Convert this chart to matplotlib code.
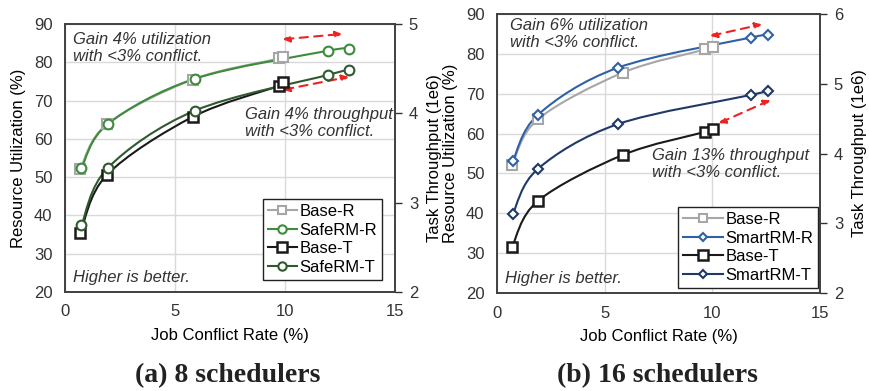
import matplotlib
matplotlib.use('Agg')
import matplotlib.pyplot as plt
from matplotlib.path import Path
from matplotlib.patches import PathPatch
from matplotlib.lines import Line2D
import numpy as np

plt.rcParams['font.family'] = ['Liberation Sans', 'DejaVu Sans']
plt.rcParams['font.size'] = 12

# (a) 8 schedulers
a_base_x = [0.7, 1.9, 5.8, 9.75, 9.9]
a_base_r = [52.2, 63.8, 75.5, 81.0, 81.3]
a_base_t = [2.66, 3.31, 3.96, 4.31, 4.35]
a_safe_x = [0.75, 1.95, 5.9, 11.95, 12.9]
a_safe_r = [52.4, 63.9, 75.7, 83.0, 83.5]
a_safe_t = [2.75, 3.39, 4.03, 4.43, 4.49]

# (b) 16 schedulers
b_base_x = [0.7, 1.9, 5.85, 9.66, 10.05]
b_base_r = [52.0, 63.6, 75.3, 81.1, 81.8]
b_base_t = [2.66, 3.32, 3.98, 4.31, 4.35]
b_smart_x = [0.73, 1.9, 5.6, 11.8, 12.6]
b_smart_r = [53.0, 64.7, 76.5, 84.1, 84.7]
b_smart_t = [3.13, 3.78, 4.42, 4.84, 4.90]

x_ticks = [0, 5, 10, 15]
r_ticks = [20, 30, 40, 50, 60, 70, 80, 90]

GREY = '#a6a6a6'
GREEN = '#3c8c3c'
DKGREEN = '#2e5a2e'
BLUE = '#2e62a4'
NAVY = '#1f3a66'


def smooth_path(x, y):
    # excel-like smoothed line (bezier through the points)
    p = np.column_stack([x, y]).astype(float)
    n = len(p)
    verts = [p[0]]
    codes = [Path.MOVETO]
    for i in range(n - 1):
        p0 = p[i - 1] if i > 0 else p[i]
        p3 = p[i + 2] if i + 2 < n else p[i + 1]
        c1 = p[i] + (p[i + 1] - p0) / 6.0
        c2 = p[i + 1] - (p3 - p[i]) / 6.0
        verts += [c1, c2, p[i + 1]]
        codes += [Path.CURVE4] * 3
    return Path(verts, codes)


def series(ax, x, y, color, marker, ms, mew, lw=1.5):
    ax.add_patch(PathPatch(smooth_path(x, y), facecolor='none', edgecolor=color,
                           lw=lw, zorder=3))
    ax.plot(x, y, ls='none', marker=marker, ms=ms, mfc='white', mec=color,
            mew=mew, zorder=4)
    return Line2D([], [], color=color, lw=lw, marker=marker, ms=ms - 1,
                  mfc='white', mec=color, mew=mew)


def setup(ax, ax2, t_ticks):
    ax.set_xlim(0, 15)
    ax.set_ylim(20, 90)
    ax.set_xticks(x_ticks)
    ax.set_yticks(r_ticks)
    ax.grid(True, color='#d9d9d9', lw=1)
    ax.set_axisbelow(True)
    ax.tick_params(axis='both', length=0, pad=9, colors='#333333', labelsize=12)
    ax2.set_ylim(t_ticks[0], t_ticks[-1])
    ax2.set_yticks(t_ticks)
    ax2.tick_params(axis='y', length=5, width=1, direction='out', pad=5,
                    colors='#333333', labelsize=12)
    for a in (ax, ax2):
        for s in a.spines.values():
            s.set_color('#404040')
            s.set_linewidth(1.2)
    ax.set_xlabel('Job Conflict Rate (%)', fontsize=12, labelpad=6)
    ax.set_ylabel('Resource Utilization (%)', fontsize=12, labelpad=6)
    ax2.set_ylabel('Task Throughput (1e6)', fontsize=12, labelpad=6)
    ax.text(0.025, 0.025, 'Higher is better.', transform=ax.transAxes,
            style='italic', fontsize=12, color='#333333', va='bottom')


def darrow(ax, x0, y0, x1, y1):
    ax.annotate('', xy=(x1, y1), xytext=(x0, y0),
                arrowprops=dict(arrowstyle='<|-|>', color='#ee2222', lw=1.5,
                                ls=(0, (4, 3)), mutation_scale=10,
                                shrinkA=0, shrinkB=0), zorder=5)


fig = plt.figure(figsize=(8.69, 3.91), dpi=100)

# left panel
ax = fig.add_axes([0.0748, 0.2532, 0.3797, 0.6854])
ax2 = ax.twinx()
setup(ax, ax2, [2, 3, 4, 5])
h1 = series(ax, a_base_x, a_base_r, GREY, 's', 7, 1.5)
h2 = series(ax, a_safe_x, a_safe_r, GREEN, 'o', 7, 1.5)
h3 = series(ax2, a_base_x, a_base_t, '#1a1a1a', 's', 7.5, 1.8)
h4 = series(ax2, a_safe_x, a_safe_t, DKGREEN, 'o', 7, 1.5)
ax2.legend([h1, h2, h3, h4], ['Base-R', 'SafeRM-R', 'Base-T', 'SafeRM-T'],
           loc='lower right', bbox_to_anchor=(0.96, 0.045), fontsize=12,
           handlelength=1.7, handletextpad=0.15, labelspacing=0.22,
           borderpad=0.3, borderaxespad=0, fancybox=False, framealpha=1,
           edgecolor='#222222')
ax.text(0.025, 0.97, 'Gain 4% utilization\nwith <3% conflict.', transform=ax.transAxes,
        style='italic', fontsize=12, color='#333333', va='top', linespacing=1.15)
ax.text(0.545, 0.69, 'Gain 4% throughput\nwith <3% conflict.', transform=ax.transAxes,
        style='italic', fontsize=12, color='#333333', va='top', linespacing=1.15)
darrow(ax, 9.9, 86.0, 12.6, 87.4)
darrow(ax, 9.9, 72.8, 12.9, 76.2)
fig.text(0.262, 0.04, '(a) 8 schedulers', ha='center', va='center',
         family='Liberation Serif', weight='bold', fontsize=20, color='#222222')

# right panel
bx = fig.add_axes([0.5719, 0.2506, 0.3717, 0.7136])
bx2 = bx.twinx()
setup(bx, bx2, [2, 3, 4, 5, 6])
g1 = series(bx, b_base_x, b_base_r, GREY, 's', 7, 1.5)
g2 = series(bx, b_smart_x, b_smart_r, BLUE, 'D', 5.5, 1.5)
g3 = series(bx2, b_base_x, b_base_t, '#1a1a1a', 's', 7.5, 1.8)
g4 = series(bx2, b_smart_x, b_smart_t, NAVY, 'D', 5.5, 1.5)
bx2.legend([g1, g2, g3, g4], ['Base-R', 'SmartRM-R', 'Base-T', 'SmartRM-T'],
           loc='lower right', bbox_to_anchor=(0.994, 0.018), fontsize=12,
           handlelength=2.4, handletextpad=0.15, labelspacing=0.22,
           borderpad=0.3, borderaxespad=0, fancybox=False, framealpha=1,
           edgecolor='#222222')
bx.text(0.04, 0.985, 'Gain 6% utilization\nwith <3% conflict.', transform=bx.transAxes,
        style='italic', fontsize=12, color='#333333', va='top', linespacing=1.15)
bx.text(0.48, 0.52, 'Gain 13% throughput\nwith <3% conflict.', transform=bx.transAxes,
        style='italic', fontsize=12, color='#333333', va='top', linespacing=1.15)
darrow(bx, 9.9, 84.5, 12.3, 87.4)
darrow(bx, 10.3, 62.6, 12.7, 68.4)
fig.text(0.756, 0.04, '(b) 16 schedulers', ha='center', va='center',
         family='Liberation Serif', weight='bold', fontsize=20, color='#222222')

fig.savefig('out.png', dpi=100)
